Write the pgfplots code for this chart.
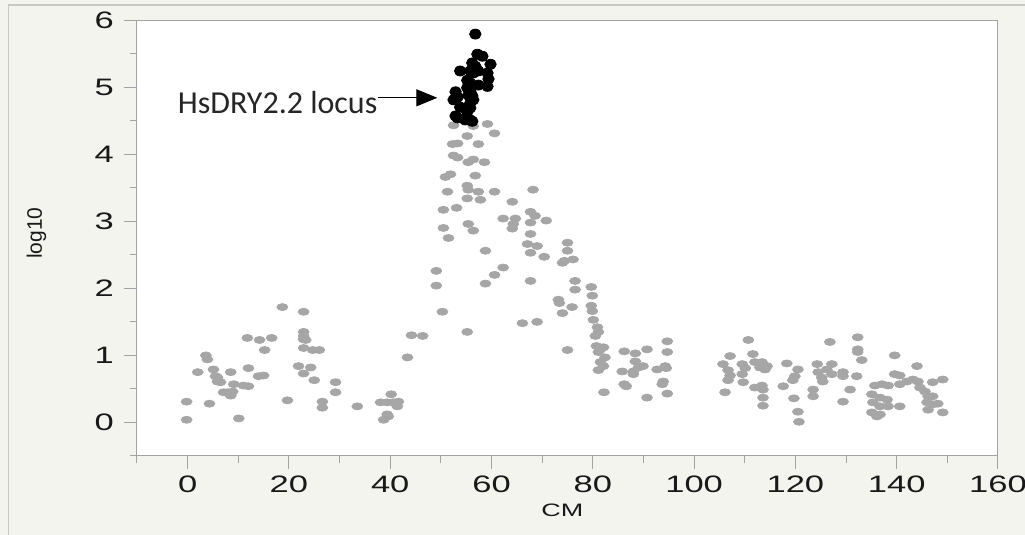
\documentclass[border=0pt]{standalone}
\usepackage{fontspec}
\setmainfont{Liberation Sans}
\newfontfamily\calibri{Carlito}
\usepackage{pgfplots}
\pgfplotsset{compat=1.18}
\usetikzlibrary{arrows.meta}
\definecolor{bgbeige}{HTML}{F4F4EF}
\definecolor{axgray}{HTML}{A3A3A3}
\definecolor{ptgray}{HTML}{A6A6A6}
\definecolor{framegray}{HTML}{C8C8C4}
\begin{document}
\begin{tikzpicture}
% page: 1025x535 px at 0.5pt/px, axis box at its lower left corner = (0,0)
\path[use as bounding box, fill=bgbeige] (-68.5pt,-39.5pt) rectangle (444pt,228pt);
\draw[framegray, line width=0.6pt] (-64.3pt,-39.5pt) -- (-64.3pt,225.5pt) -- (444pt,225.5pt);
\begin{axis}[
  scale only axis, width=430.5pt, height=218pt,
  xmin=-10, xmax=160, ymin=-0.5, ymax=6,
  axis background/.style={fill=white},
  axis line style={draw=axgray, line width=0.5pt},
  tick pos=left, tick align=outside,
  xtick={0,20,...,160}, minor xtick={-10,10,30,...,150},
  ytick={0,1,...,6}, minor ytick={-0.5,0.5,...,5.5},
  major tick length=6.5pt, minor tick length=3.5pt,
  tick style={draw=axgray, line width=0.5pt},
  /pgf/number format/assume math mode=true,
  ticklabel style={font=\fontsize{11.9}{13}\selectfont, text=black!90, xscale=1.45},
  xlabel={CM}, ylabel={log10},
  xlabel style={at={(axis description cs:0.494,-0.124)}, anchor=center,
    font=\fontsize{9}{10}\selectfont, xscale=1.5, text=black!90},
  ylabel style={at={(axis description cs:-0.1167,0.511)}, anchor=center,
    font=\fontsize{10.5}{12}\selectfont, text=black!90},
  clip=false,
]
% gray markers, all loci
\addplot[only marks, mark=*, color=ptgray, mark size=1.75pt, mark options={xscale=1.55, draw=none, fill=ptgray}]
  coordinates {
  (-0.2,0.31) (-0.2,0.04) (2.0,0.75) (3.6,1.00) (3.9,0.94) (4.3,0.28) (5.1,0.79) (5.5,0.69)
  (5.9,0.67) (5.9,0.61) (6.5,0.60) (7.1,0.45) (7.9,0.45) (8.5,0.40) (8.9,0.46) (8.5,0.75)
  (9.1,0.57) (10.1,0.06) (11.0,0.55) (12.0,0.54) (11.8,1.26) (14.2,1.23) (16.6,1.26) (15.2,1.08)
  (12.0,0.81) (14.0,0.69) (15.0,0.70) (18.7,1.72) (19.7,0.33) (22.9,1.65) (22.9,1.35) (22.9,1.29)
  (23.3,1.23) (22.9,1.24) (22.9,1.11) (24.7,1.08) (26.0,1.08) (21.9,0.84) (22.9,0.73) (24.3,0.82)
  (25.0,0.63) (26.6,0.31) (26.6,0.22) (29.2,0.60) (29.2,0.45) (33.5,0.24) (38.1,0.30) (39.4,0.30)
  (40.6,0.30) (41.6,0.31) (41.4,0.24) (40.2,0.42) (38.7,0.04) (39.4,0.12) (39.6,0.09) (43.4,0.97)
  (44.2,1.30) (46.4,1.29)
  (52.5,4.43) (56.4,4.42) (59.2,4.45) (60.6,4.31) (55.2,4.27) (52.3,4.15) (53.3,4.16) (57.4,4.15)
  (52.5,3.98) (53.3,3.95) (55.4,3.88) (56.4,3.92) (58.6,3.88) (50.9,3.66) (51.9,3.70) (56.8,3.68)
  (51.3,3.44) (55.2,3.53) (55.4,3.47) (57.4,3.44) (60.6,3.44) (68.2,3.47) (55.2,3.34) (57.8,3.32)
  (50.5,3.17) (53.1,3.20) (64.1,3.29) (62.3,3.04) (64.7,3.04) (64.3,2.96) (64.1,2.89) (67.7,3.14)
  (68.6,3.08) (67.7,2.98) (70.8,3.01) (55.4,2.96) (56.4,2.86) (50.5,2.90) (51.5,2.75) (67.7,2.81)
  (67.1,2.66) (69.0,2.63) (67.7,2.53) (70.4,2.47) (75.0,2.68) (75.0,2.56) (74.0,2.38) (74.4,2.41)
  (76.1,2.43) (58.8,2.56) (49.1,2.26) (49.1,2.04) (62.3,2.31) (60.6,2.20) (58.8,2.07) (67.7,2.11)
  (76.5,2.11) (76.5,1.98) (79.7,2.02) (79.9,1.89) (73.2,1.83) (73.4,1.78) (75.9,1.72) (74.0,1.63)
  (79.7,1.74) (79.9,1.66) (50.3,1.65) (66.1,1.48) (69.0,1.50) (80.1,1.53) (80.9,1.42) (81.1,1.35)
  (80.5,1.29) (55.2,1.35) (75.0,1.08)
  (80.7,1.14) (81.5,1.09) (82.1,1.12) (81.1,1.05) (82.4,0.97) (81.5,0.90) (82.1,0.84) (81.1,0.78)
  (82.2,0.45) (86.2,1.06) (88.4,1.03) (90.7,1.09) (94.7,1.21) (94.7,1.05) (88.4,0.91) (85.8,0.76)
  (88.0,0.76) (89.0,0.82) (89.9,0.84) (88.0,0.72) (92.7,0.79) (94.3,0.84) (94.5,0.81) (86.2,0.57)
  (86.6,0.54) (93.9,0.61) (93.7,0.57) (90.7,0.37) (94.7,0.43)
  (110.7,1.23) (107.1,0.99) (105.7,0.87) (106.7,0.78) (107.1,0.70) (106.7,0.63) (106.1,0.45) (109.5,0.87)
  (110.1,0.81) (109.5,0.72) (109.7,0.60) (111.6,1.02) (112.0,0.90) (113.4,0.90) (114.4,0.84) (114.0,0.79)
  (113.0,0.82) (112.0,0.52) (113.4,0.55) (113.6,0.49) (113.6,0.37) (113.6,0.25) (118.3,0.88) (120.5,0.79)
  (119.9,0.69) (119.5,0.63) (117.6,0.54) (119.7,0.36) (120.5,0.16) (120.7,0.01) (126.8,1.20) (124.3,0.87)
  (124.5,0.75) (125.2,0.67) (125.4,0.61) (123.5,0.49) (123.5,0.39) (127.2,0.87) (126.2,0.79) (127.2,0.72)
  (129.4,0.75) (129.4,0.69) (130.8,0.49) (129.4,0.31) (132.1,0.69) (132.3,1.27) (132.3,1.09) (132.3,1.05)
  (133.1,0.93) (139.6,1.00) (139.6,0.72) (140.6,0.70) (135.7,0.55) (137.1,0.57) (138.3,0.55) (135.1,0.42)
  (136.7,0.37) (138.1,0.34) (135.3,0.30) (136.7,0.24) (138.3,0.24) (140.6,0.24) (135.1,0.15) (136.1,0.09)
  (136.7,0.12) (140.6,0.57) (142.0,0.61) (143.2,0.64) (144.2,0.61) (144.0,0.84) (144.6,0.52) (145.6,0.46)
  (146.2,0.39) (147.1,0.39) (146.0,0.30) (146.2,0.19) (147.1,0.27) (148.1,0.28) (149.1,0.15) (147.1,0.60)
  (149.1,0.64)
  };
% black markers, HsDRY2.2 locus
\addplot[only marks, mark=*, color=black, mark size=2.5pt, mark options={xscale=1.15, draw=none, fill=black}]
  coordinates {
  (56.8,5.79) (57.2,5.49) (58.2,5.46) (56.2,5.36) (56.8,5.31) (59.8,5.34) (53.8,5.24) (55.8,5.24)
  (56.4,5.21) (57.4,5.24) (59.2,5.21) (59.4,5.12) (55.2,5.10) (55.8,5.06) (59.2,5.01) (57.4,5.03)
  (55.2,4.99) (55.8,4.94) (55.4,4.88) (52.9,4.93) (53.3,4.85) (52.5,4.81) (56.2,4.87) (56.4,4.81)
  (55.8,4.76) (53.8,4.70) (55.8,4.69) (55.2,4.63) (52.9,4.57) (53.3,4.54) (55.2,4.55) (56.2,4.49)
  (55.8,4.51) (54.8,4.51)
  };
% annotation
\node[anchor=base west, inner sep=0pt, font=\calibri\fontsize{16}{18}\selectfont, text=black!85]
  at (axis cs:-2.0,4.61) {HsDRY2.2 locus};
\draw[-{Triangle[length=10.5pt,width=8.5pt]}, line width=0.6pt]
  (axis cs:37.5,4.84) -- (axis cs:49.3,4.84);
\end{axis}
\end{tikzpicture}
\end{document}
